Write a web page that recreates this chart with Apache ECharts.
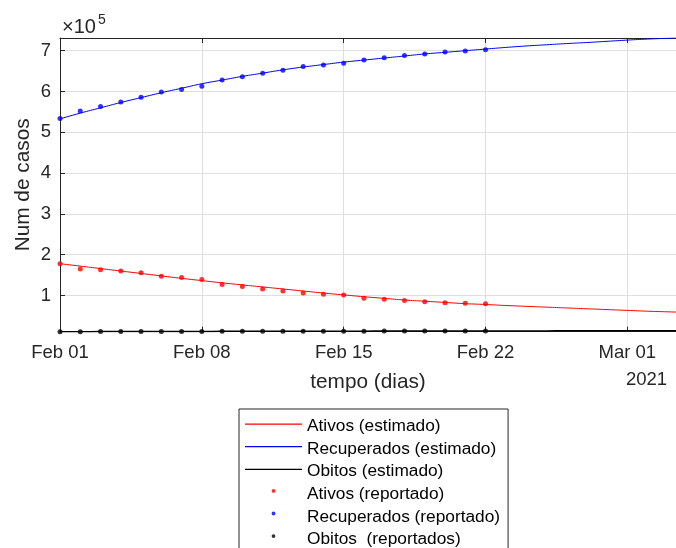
<!DOCTYPE html>
<html>
<head>
<meta charset="utf-8">
<script src="https://cdn.jsdelivr.net/npm/echarts@6/dist/echarts.min.js"></script>
<style>
  html, body { margin: 0; padding: 0; background: #fff; }
  #chart { width: 676px; height: 548px; }
</style>
</head>
<body>
<div id="chart"></div>
<script>
// dias desde 01/02/2021
const diasReportados = [0, 1, 2, 3, 4, 5, 6, 7, 8, 9, 10, 11, 12, 13, 14, 15, 16, 17, 18, 19, 20, 21]
const diasEstimados = [0, 1, 2, 3, 4, 5, 6, 7, 8, 9, 10, 11, 12, 13, 14, 15, 16, 17, 18, 19, 20, 21, 22, 23, 24, 25, 26, 27, 28, 29, 30, 31]

// rotulos do eixo x (a cada 7 dias)
const rotulosX = ['Feb 01', 'Feb 08', 'Feb 15', 'Feb 22', 'Mar 01']
// rotulos do eixo y
const ticksY = [100000, 200000, 300000, 400000, 500000, 600000, 700000]

// reportado
const ativosRep = [178000, 165000, 163000, 160000, 156000, 147000, 144000, 139000, 127000, 122000, 116000, 111000, 106000, 103000, 101000, 93000, 91000, 88000, 85000, 82000, 81000, 80000]
const recuperadosRep = [534000, 552000, 563000, 574000, 586000, 599000, 605000, 613000, 628000, 636000, 645000, 652000, 661000, 665000, 669000, 677000, 683000, 688000, 692000, 697000, 699000, 702000]
const obitosRep = [11300, 11400, 11500, 11600, 11700, 11800, 11900, 12000, 12100, 12200, 12300, 12400, 12450, 12500, 12600, 12700, 12750, 12800, 12900, 12950, 13000, 13100]

// estimado
const ativosEst = [178000, 172000, 166000, 160000, 154000, 148000, 142000, 136500, 131000, 126000, 121000, 116000, 111000, 106000, 101500, 97000, 93000, 89000, 86000, 83000, 80000, 78000, 75500, 73500, 71500, 69500, 67500, 65500, 63500, 61500, 60000, 58500]
const recuperadosEst = [533000, 547000, 560000, 573000, 585000, 597000, 608000, 619000, 628000, 637000, 645000, 653000, 660000, 666000, 672000, 677000, 682000, 687000, 692000, 696000, 700000, 704000, 708000, 711500, 714500, 717500, 720000, 723000, 726000, 728500, 730500, 732500]
const obitosEst = [11300, 11400, 11500, 11600, 11700, 11800, 11900, 12000, 12100, 12200, 12300, 12400, 12450, 12500, 12600, 12700, 12750, 12800, 12900, 12950, 13000, 13100, 13150, 13200, 13300, 13350, 13400, 13450, 13500, 13550, 13600, 13650]

const fonte = '"Liberation Sans", Arial, Helvetica, sans-serif'
const corEixo = '#262626'

function pares(xs, ys) {
  return xs.map((x, i) => [x, ys[i]])
}

// icones da legenda (caixa 57x14)
const iconeLinha = 'path://M0 0M57 14M0 4h57v1.2h-57z'
const iconePonto = 'path://M0 0M57 14M26.6 3.6a1.9 1.9 0 1 1 3.8 0a1.9 1.9 0 1 1 -3.8 0z'

const chart = echarts.init(document.getElementById('chart'), null, { renderer: 'canvas' })

const option = {
  animation: false,
  backgroundColor: '#fff',
  textStyle: { fontFamily: fonte },
  grid: {
    left: 60,
    top: 38,
    right: 0,
    bottom: 216.3
  },
  xAxis: [
    {
      type: 'value',
      min: 0,
      max: 30.4,
      interval: 7,
      axisLine: { show: true, lineStyle: { color: corEixo, width: 1 } },
      axisTick: { show: true, inside: true, length: 5, lineStyle: { color: corEixo } },
      axisLabel: {
        color: corEixo,
        fontSize: 18.5,
        fontFamily: fonte,
        margin: 12,
        showMaxLabel: false,
        formatter: (v) => rotulosX[Math.round(v / 7)] || ''
      },
      splitLine: { show: true, lineStyle: { color: '#dfdfdf', width: 1 } },
      name: 'tempo (dias)',
      nameLocation: 'middle',
      nameGap: 40,
      nameTextStyle: { color: corEixo, fontSize: 20.8, fontFamily: fonte }
    },
    {
      // borda superior
      type: 'value',
      position: 'top',
      min: 0,
      max: 30.4,
      interval: 7,
      axisLine: { show: true, onZero: false, lineStyle: { color: corEixo, width: 1 } },
      axisTick: { show: true, inside: true, length: 5, lineStyle: { color: corEixo } },
      axisLabel: { show: false },
      splitLine: { show: false }
    }
  ],
  yAxis: {
    type: 'value',
    min: 11300,
    max: 731100,
    axisLine: { show: true, lineStyle: { color: corEixo, width: 1 } },
    axisTick: { show: true, inside: true, length: 5, customValues: ticksY, lineStyle: { color: corEixo } },
    axisLabel: {
      color: corEixo,
      fontSize: 18.5,
      fontFamily: fonte,
      margin: 9,
      customValues: ticksY,
      formatter: (v) => String(Math.round(v / 100000))
    },
    splitLine: { show: true, lineStyle: { color: '#dfdfdf', width: 1 } },
    name: 'Num de casos',
    nameLocation: 'middle',
    nameGap: 26,
    nameMoveOverlap: false,
    nameTextStyle: { color: corEixo, fontSize: 20.8, fontFamily: fonte }
  },
  legend: {
    orient: 'vertical',
    left: 239,
    top: 409,
    height: 160,
    padding: [9, 8, 8, 6],
    itemWidth: 57,
    itemHeight: 14,
    itemGap: 5.6,
    itemTextGap: 5,
    symbolKeepAspect: true,
    selectedMode: false,
    borderColor: corEixo,
    borderWidth: 1,
    backgroundColor: '#fff',
    itemStyle: { borderWidth: 0 },
    textStyle: { color: '#000', fontSize: 17.3, fontFamily: fonte },
    data: [
      { name: 'Ativos (estimado)', icon: iconeLinha },
      { name: 'Recuperados (estimado)', icon: iconeLinha },
      { name: 'Obitos (estimado)', icon: iconeLinha },
      { name: 'Ativos (reportado)', icon: iconePonto },
      { name: 'Recuperados (reportado)', icon: iconePonto },
      { name: 'Obitos  (reportados)', icon: iconePonto }
    ]
  },
  graphic: [
    {
      type: 'text',
      x: 62,
      y: 27.5,
      style: { text: '×10', font: '20px ' + fonte, fill: corEixo, align: 'left', verticalAlign: 'middle' }
    },
    {
      type: 'text',
      x: 98,
      y: 20,
      style: { text: '5', font: '14px ' + fonte, fill: corEixo, align: 'left', verticalAlign: 'middle' }
    },
    {
      type: 'text',
      x: 646.5,
      y: 380,
      style: { text: '2021', font: '18.5px ' + fonte, fill: corEixo, align: 'center', verticalAlign: 'middle' }
    }
  ],
  series: [
    {
      name: 'Ativos (estimado)',
      type: 'line',
      data: pares(diasEstimados, ativosEst),
      symbol: 'none',
      smooth: true,
      color: '#ff0000',
      lineStyle: { width: 1 }
    },
    {
      name: 'Recuperados (estimado)',
      type: 'line',
      data: pares(diasEstimados, recuperadosEst),
      symbol: 'none',
      smooth: true,
      color: '#0000ff',
      lineStyle: { width: 1 }
    },
    {
      name: 'Obitos (estimado)',
      type: 'line',
      data: pares(diasEstimados, obitosEst),
      symbol: 'none',
      smooth: true,
      color: '#000000',
      lineStyle: { width: 1.5 }
    },
    {
      name: 'Ativos (reportado)',
      type: 'scatter',
      data: pares(diasReportados, ativosRep),
      symbolSize: 5,
      color: '#ff0000'
    },
    {
      name: 'Recuperados (reportado)',
      type: 'scatter',
      data: pares(diasReportados, recuperadosRep),
      symbolSize: 5,
      color: '#0000ff'
    },
    {
      name: 'Obitos  (reportados)',
      type: 'scatter',
      data: pares(diasReportados, obitosRep),
      symbolSize: 5,
      color: '#000000'
    }
  ]
}

chart.setOption(option)
</script>
</body>
</html>
